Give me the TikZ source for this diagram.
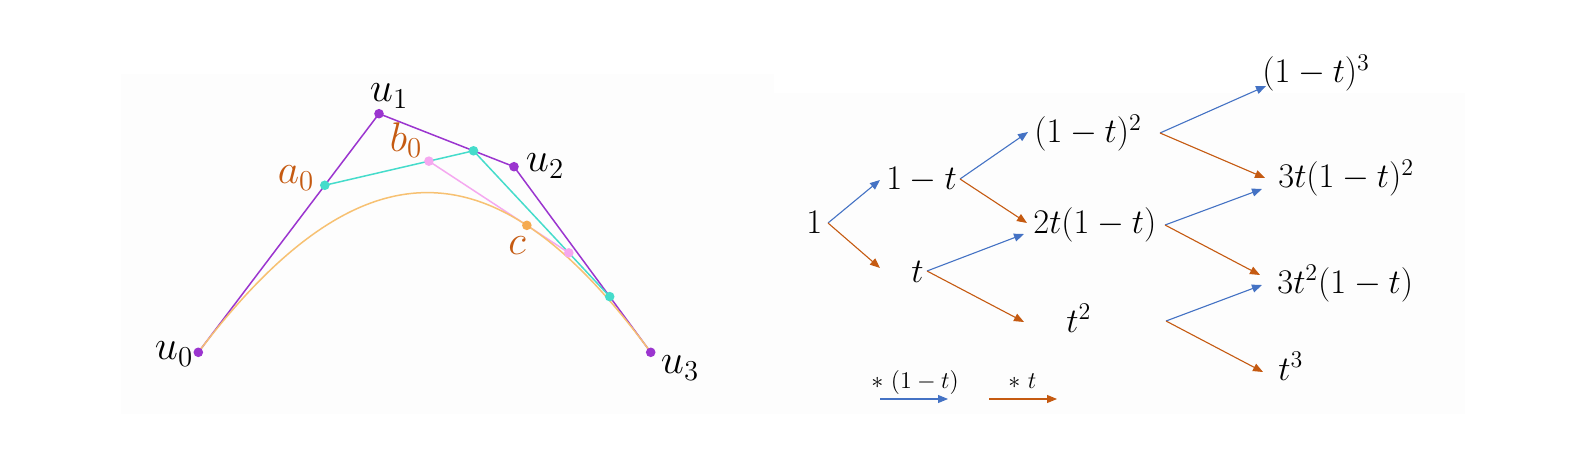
\documentclass[tikz,border=0pt]{standalone}
\usetikzlibrary{arrows.meta,calc}
\definecolor{cpurple}{HTML}{9B35CF}
\definecolor{ccyan}{HTML}{45DCCB}
\definecolor{cpink}{HTML}{F5A8F0}
\definecolor{ccurve}{HTML}{F7C172}
\definecolor{cdot}{HTML}{F5AA50}
\definecolor{clabel}{HTML}{C55A11}
\definecolor{cblue}{HTML}{4472C4}
\definecolor{corange}{HTML}{C55A11}
\definecolor{bgpanel}{HTML}{FDFDFD}
\begin{document}
\begin{tikzpicture}[x=0.5pt,y=-0.5pt,
  ulab/.style={inner sep=0pt, font=\fontsize{19.5}{22}\selectfont},
  olab/.style={inner sep=0pt, text=clabel, font=\fontsize{20.5}{23}\selectfont},
  expr/.style={inner sep=0pt, anchor=base west, font=\fontsize{16.5}{19}\selectfont},
  leg/.style={inner sep=0pt, anchor=base west, font=\fontsize{11.5}{14}\selectfont},
  polyline/.style={line width=0.75pt},
  barr/.style={cblue, line width=0.55pt, -{Triangle[length=5pt,width=4pt]}},
  oarr/.style={corange, line width=0.55pt, -{Triangle[length=5pt,width=4pt]}},
]
\useasboundingbox (0,0) rectangle (1577,454);
\fill[bgpanel] (121,74) rectangle (774,414);
\fill[bgpanel] (774,93) rectangle (1465,414);

% ---- left panel: de Casteljau ----
\coordinate (u0) at (198.3,352.3);
\coordinate (u1) at (379,113.7);
\coordinate (u2) at (514,166.7);
\coordinate (u3) at (650.7,352.3);
\coordinate (a0) at ($(u0)!0.7!(u1)$);
\coordinate (a1) at ($(u1)!0.7!(u2)$);
\coordinate (a2) at ($(u2)!0.7!(u3)$);
\coordinate (b0) at ($(a0)!0.7!(a1)$);
\coordinate (b1) at ($(a1)!0.7!(a2)$);
\coordinate (c) at ($(b0)!0.7!(b1)$);

\draw[cpurple, polyline] (u0) -- (u1) -- (u2) -- (u3);
\draw[ccyan, polyline] (a0) -- (a1) -- (a2);
\draw[cpink, polyline] (b0) -- (b1);
\draw[ccurve, polyline] (u0) .. controls (u1) and (u2) .. (u3);

\foreach \p in {u0,u1,u2,u3} \fill[cpurple] (\p) circle (2.4pt);
\foreach \p in {a0,a1,a2} \fill[ccyan] (\p) circle (2.4pt);
\foreach \p in {b0,b1} \fill[cpink] (\p) circle (2.4pt);
\fill[cdot] (c) circle (2.4pt);

\node[ulab] (lu0) at (174,354) {$u_0$};
\node[ulab] (lu1) at (389,96) {$u_1$};
\node[ulab] (lu2) at (545,166) {$u_2$};
\node[ulab] (lu3) at (680,368) {$u_3$};
\node[olab] (la0) at (296,178) {$a_0$};
\node[olab] (lb0) at (406,140) {$b_0$};
\node[olab] (lc) at (517,246) {$c$};

% ---- right panel: tree ----
\node[expr] (n1) at (806,234) {$1$};
\node[expr] (n1t) at (886,190) {$1-t$};
\node[expr] (nt) at (911,282) {$t$};
\node[expr] (n2a) at (1034,143) {$(1-t)^2$};
\node[expr] (n2b) at (1033,234) {$2t(1-t)$};
\node[expr] (n2c) at (1066,332) {$t^2$};
\node[expr] (n3a) at (1262,83) {$(1-t)^3$};
\node[expr] (n3b) at (1278,188) {$3t(1-t)^2$};
\node[expr] (n3c) at (1277,293) {$3t^2(1-t)$};
\node[expr] (n3d) at (1278,380) {$t^3$};

\coordinate (s0) at (828,223);
\coordinate (e0b) at (880,180);
\coordinate (e0o) at (880,268);
\coordinate (s1) at (960,179);
\coordinate (e1b) at (1028,132);
\coordinate (e1o) at (1027,223);
\coordinate (s2) at (927,271);
\coordinate (e2b) at (1024,234);
\coordinate (e2o) at (1024,322);
\coordinate (s3) at (1160,133);
\coordinate (e3b) at (1266,86);
\coordinate (e3o) at (1265,178);
\coordinate (s4) at (1165,225);
\coordinate (e4b) at (1262,189);
\coordinate (e4o) at (1260,275);
\coordinate (s5) at (1166,321);
\coordinate (e5b) at (1262,285);
\coordinate (e5o) at (1263,372);

\draw[barr] (s0) -- (e0b);
\draw[oarr] (s0) -- (e0o);
\draw[barr] (s1) -- (e1b);
\draw[oarr] (s1) -- (e1o);
\draw[barr] (s2) -- (e2b);
\draw[oarr] (s2) -- (e2o);
\draw[barr] (s3) -- (e3b);
\draw[oarr] (s3) -- (e3o);
\draw[barr] (s4) -- (e4b);
\draw[oarr] (s4) -- (e4o);
\draw[barr] (s5) -- (e5b);
\draw[oarr] (s5) -- (e5o);

% legend
\node[leg] (lg1) at (871,388) {$\ast\ (1-t)$};
\node[leg] (lg2) at (1008,388) {$\ast\ t$};
\coordinate (lb1s) at (880,399);
\coordinate (lb1e) at (948,399);
\coordinate (lb2s) at (989,399);
\coordinate (lb2e) at (1057,399);
\draw[barr] (lb1s) -- (lb1e);
\draw[oarr] (lb2s) -- (lb2e);
\end{tikzpicture}
\end{document}
